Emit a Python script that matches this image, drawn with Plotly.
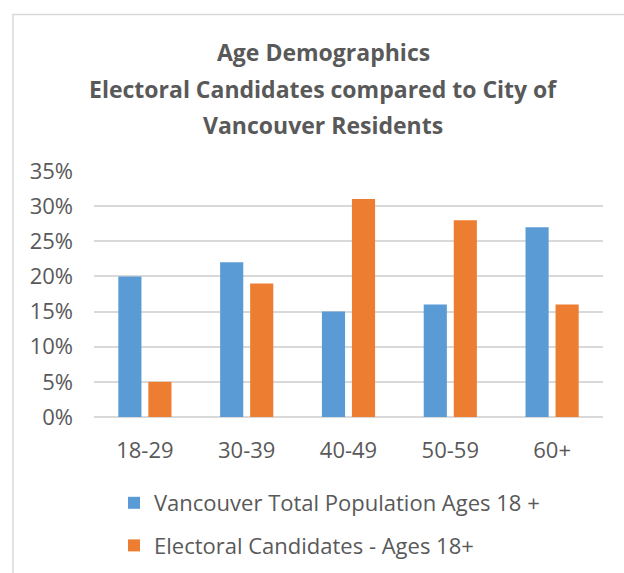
import plotly.graph_objects as go

categories = ["18-29", "30-39", "40-49", "50-59", "60+"]
population = [0.20, 0.22, 0.15, 0.16, 0.27]
candidates = [0.05, 0.19, 0.31, 0.28, 0.16]
series_names = ["Vancouver Total Population Ages 18 +", "Electoral Candidates - Ages 18+"]
title_lines = ["Age Demographics", "Electoral Candidates compared to City of", "Vancouver Residents"]

BLUE = "#5B9BD5"
ORANGE = "#ED7D31"
GRAY = "#595959"
FONT = "Open Sans"

W, H = 624, 573
L, R, T, B = 94, 21, 171, 156
pw, ph = W - L - R, H - T - B

def px_x(x):
    return (x - L) / pw

def px_y(y):
    return (H - B - y) / ph

fig = go.Figure()
fig.add_trace(go.Bar(x=categories, y=population, name=series_names[0],
                     marker=dict(color=BLUE, line=dict(width=0)), legendgroup="a"))
fig.add_trace(go.Bar(x=categories, y=candidates, name=series_names[1],
                     marker=dict(color=ORANGE, line=dict(width=0)), legendgroup="b"))

annotations = []
for line, yc in zip(title_lines, [52, 89, 125]):
    annotations.append(dict(text="<b>" + line + "</b>", x=px_x(323), y=px_y(yc),
                            xref="paper", yref="paper", xanchor="center", yanchor="middle",
                            showarrow=False, font=dict(family=FONT, size=23, color=GRAY)))

fig.update_layout(
    width=W, height=H,
    margin=dict(l=L, r=R, t=T, b=B, autoexpand=False),
    paper_bgcolor="white", plot_bgcolor="white",
    barmode="group", bargap=0.41, bargroupgap=0.23,
    font=dict(family=FONT, size=22, color=GRAY),
    showlegend=True,
    legend=dict(orientation="v", xref="container", yref="container",
                x=114 / W, xanchor="left", y=1 - 482 / H, yanchor="top",
                font=dict(family=FONT, size=22, color=GRAY), tracegroupgap=11,
                bgcolor="rgba(0,0,0,0)"),
    annotations=annotations,
    shapes=[dict(type="rect", xref="paper", yref="paper",
                 x0=px_x(13), x1=px_x(660), y0=px_y(620), y1=px_y(14.5),
                 line=dict(color="#D9D9D9", width=1.5), fillcolor="rgba(0,0,0,0)", layer="below")],
)
fig.update_yaxes(range=[0, 0.35], dtick=0.05, tickformat=".0%", showgrid=True,
                 gridcolor="#D9D9D9", gridwidth=1.5, zeroline=True, zerolinecolor="#D9D9D9",
                 zerolinewidth=1.5, showline=False, ticks="", ticklabelstandoff=20,
                 tickfont=dict(family=FONT, size=22, color=GRAY), fixedrange=True)
fig.update_xaxes(showgrid=False, showline=False, ticks="", ticklabelstandoff=18,
                 tickfont=dict(family=FONT, size=22, color=GRAY), fixedrange=True)

fig.write_html("out.html")
